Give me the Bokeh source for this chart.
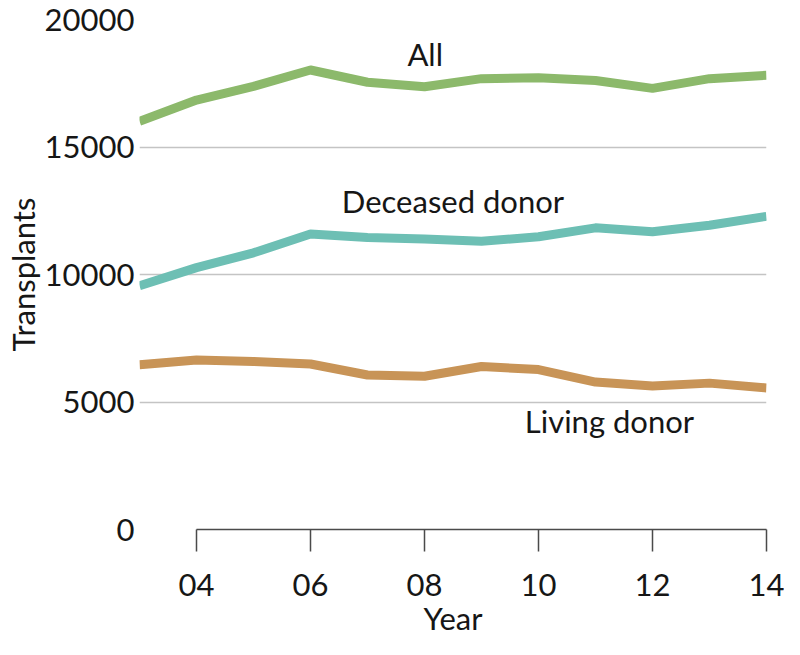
from bokeh.plotting import figure
from bokeh.models import Range1d, FixedTicker, Label, ColumnDataSource
from bokeh.embed import file_html
from bokeh.resources import INLINE

# ---- data ----
years = [2003, 2004, 2005, 2006, 2007, 2008, 2009, 2010, 2011, 2012, 2013, 2014]
all_tx = [16010, 16840, 17380, 18020, 17540, 17360, 17680, 17720, 17610, 17300, 17680, 17810]
deceased = [9560, 10270, 10850, 11590, 11450, 11390, 11300, 11480, 11830, 11680, 11930, 12280]
living = [6460, 6650, 6590, 6490, 6060, 6010, 6390, 6270, 5780, 5630, 5740, 5550]

x_ticks = [2004, 2006, 2008, 2010, 2012, 2014]
x_tick_labels = ["04", "06", "08", "10", "12", "14"]
y_ticks = [0, 5000, 10000, 15000, 20000]
y_tick_labels = ["0", "5000", "10000", "15000", "20000"]

series_names = ["All", "Deceased donor", "Living donor"]
series_colors = ["#8cb96b", "#6dbfb4", "#c89457"]

FONT = "Lato"
FS = "31px"
TXT = "#161616"

p = figure(width=784, height=639, output_backend="svg", toolbar_location=None,
           x_range=Range1d(2003, 2014), y_range=Range1d(0, 20000),
           min_border_left=0, min_border_right=18, min_border_top=19, min_border_bottom=0)
p.outline_line_color = None
p.background_fill_color = "white"
p.border_fill_color = "white"

# grid
p.xgrid.grid_line_color = None
p.ygrid.ticker = FixedTicker(ticks=y_ticks[1:])
p.ygrid.grid_line_color = "#c4c4c4"
p.ygrid.grid_line_width = 1.5

# x axis
xa = p.xaxis[0]
xa.ticker = FixedTicker(ticks=x_ticks)
xa.major_label_overrides = {t: l for t, l in zip(x_ticks, x_tick_labels)}
xa.bounds = (x_ticks[0], x_ticks[-1])
xa.axis_line_color = "#4a4a4a"
xa.axis_line_width = 1.5
xa.major_tick_line_color = "#4a4a4a"
xa.major_tick_line_width = 1.5
xa.major_tick_out = 22
xa.major_tick_in = 0
xa.minor_tick_line_color = None
xa.major_label_standoff = 22
xa.major_label_text_font = FONT
xa.major_label_text_font_size = FS
xa.major_label_text_color = TXT
xa.axis_label = "Year"
xa.axis_label_standoff = 0
xa.axis_label_text_font = FONT
xa.axis_label_text_font_size = FS
xa.axis_label_text_font_style = "normal"
xa.axis_label_text_color = TXT

# y axis
ya = p.yaxis[0]
ya.ticker = FixedTicker(ticks=y_ticks)
ya.major_label_overrides = {t: l for t, l in zip(y_ticks, y_tick_labels)}
ya.axis_line_color = None
ya.major_tick_line_color = None
ya.minor_tick_line_color = None
ya.major_tick_out = 0
ya.major_tick_in = 0
ya.major_label_standoff = 5
ya.major_label_text_font = FONT
ya.major_label_text_font_size = FS
ya.major_label_text_color = TXT
ya.axis_label = "Transplants"
ya.axis_label_standoff = 0
ya.axis_label_text_font = FONT
ya.axis_label_text_font_size = FS
ya.axis_label_text_font_style = "normal"
ya.axis_label_text_color = TXT

# lines
for vals, col in zip([all_tx, deceased, living], series_colors):
    src = ColumnDataSource(dict(x=years, y=vals))
    p.line("x", "y", source=src, line_color=col, line_width=9, line_join="round", line_cap="butt")

# series labels
label_pos = [(2007.70, 18660), (2006.55, 12900), (2009.76, 4240)]
for name, (lx, ly) in zip(series_names, label_pos):
    p.add_layout(Label(x=lx, y=ly, text=name, text_font=FONT, text_font_size=FS,
                       text_color=TXT, text_align="left", text_baseline="alphabetic"))

open("out.html", "w").write(file_html(p, INLINE))
